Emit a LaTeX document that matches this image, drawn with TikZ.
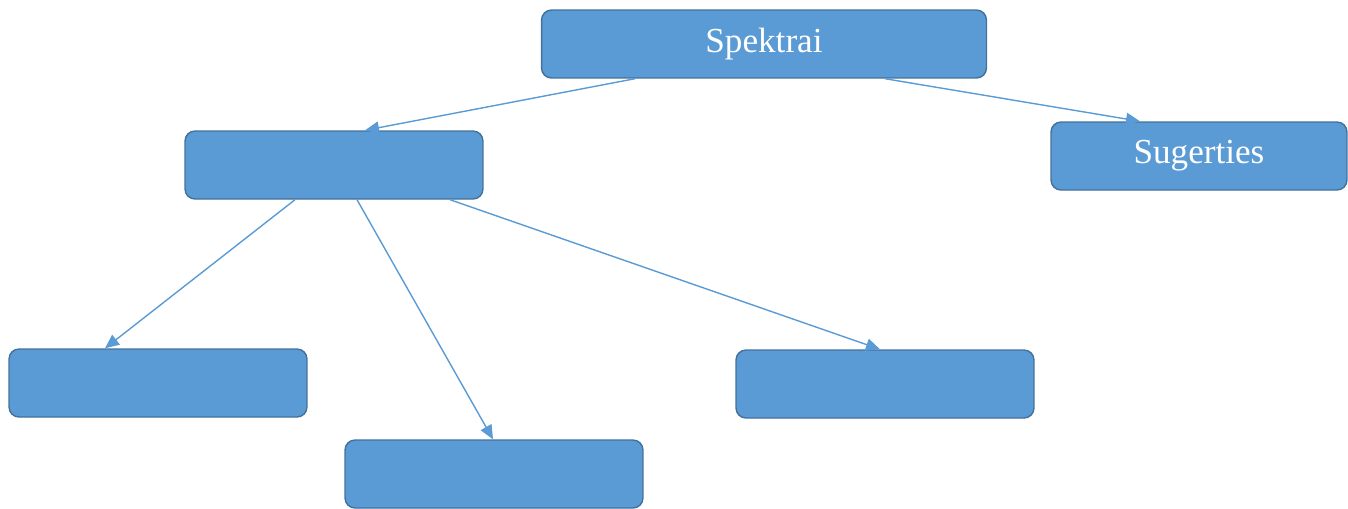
\documentclass[tikz,border=0pt]{standalone}
\usepackage{fontspec}
\setmainfont{Liberation Serif}
\usepackage{tikz}
\usetikzlibrary{
  positioning,
  calc,
  arrows.meta
}
\definecolor{boxfill}{HTML}{5B9BD5}
\definecolor{boxline}{HTML}{41719C}

\begin{document}
\begin{tikzpicture}[x=0.02cm,y=-0.02cm,
    box/.style={draw=boxline,fill=boxfill,line width=0.8pt,rounded corners=0.2cm,
      minimum width=5.96cm,minimum height=1.36cm,inner sep=0pt,
      text=white,font=\fontsize{20}{24}\selectfont},
    link/.style={draw=boxfill,line width=0.8pt,-{Triangle[length=8pt,width=7pt]}}]
        \useasboundingbox (0,0) rectangle (1348,508);
        \node[box,minimum width=8.9cm] (spek) at (764,44) {Spektrai};
        \node[box] (mid) at (334,165) {};
        \node[box,minimum width=5.92cm] (sug) at (1199,156) {Sugerties};
        \node[box] (bl) at (158,383) {};
        \node[box] (bm) at (494,474) {};
        \node[box] (br) at (885,384) {};

        \draw[link] ($(spek.south)+(-129,0)$) -- ($(mid.north)+(31,0)$);
        \draw[link] ($(spek.south)+(121,0)$) -- ($(sug.north)+(-59,0)$);
        \draw[link] ($(mid.south)+(-39,0)$) -- ($(bl.north)+(-53,0)$);
        \draw[link] ($(mid.south)+(23,0)$) -- ($(bm.north)+(-1,0)$);
        \draw[link] ($(mid.south)+(116,0)$) -- ($(br.north)+(-5,0)$);
    \end{tikzpicture}
\end{document}
